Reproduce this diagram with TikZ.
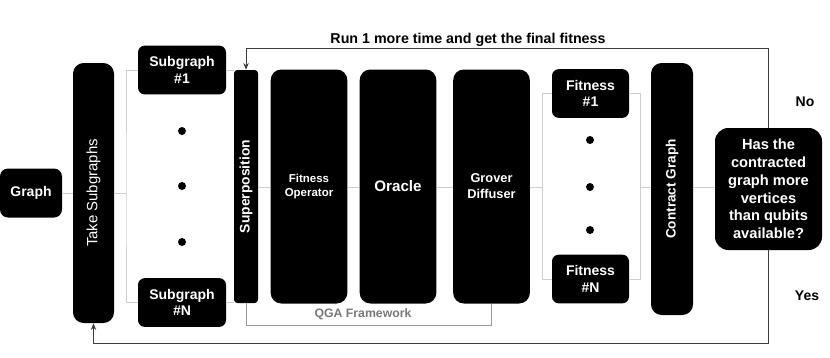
\documentclass[tikz,border=0pt]{standalone}
\usepackage{fontspec}
\setmainfont{Liberation Sans}
\usetikzlibrary{arrows.meta,positioning}
\definecolor{qlight}{RGB}{205,205,205}
\definecolor{qgray}{RGB}{150,150,150}
\definecolor{qtext}{RGB}{120,120,120}
\definecolor{qdark}{RGB}{60,60,60}

\begin{document}
\begin{tikzpicture}[x=0.75pt,y=-0.75pt,
  blk/.style={fill=black,text=white,rounded corners=8pt,inner sep=0pt,align=center,
    font=\fontsize{10.5}{12.5}\selectfont\bfseries},
  tag/.style={blk,rounded corners=5pt,minimum width=66pt,minimum height=36.5pt},
  stage/.style={blk,minimum width=57.5pt,minimum height=175.5pt},
  link/.style={draw=qlight,line width=0.6pt},
  back/.style={draw=qdark,line width=0.7pt,-{Stealth[length=5pt,width=4pt]}},
  lbl/.style={font=\fontsize{10.5}{12.5}\selectfont\bfseries}
]
  \useasboundingbox (0,0) rectangle (830,357);
  % Input and subgraphs
  \node[blk,rounded corners=6pt,minimum width=46.5pt,minimum height=36.75pt] (graph) at (31,193) {Graph};
  \node[blk,rotate=90,minimum width=195pt,minimum height=30.75pt,
    font=\fontsize{11.2}{12}\selectfont] (take) at (93.5,193) {Take Subgraphs};
  \node[tag] (sub1) at (182,70) {Subgraph\\\#1};
  \node[tag] (subN) at (182,302.5) {Subgraph\\\#N};
  \foreach \y in {131,186,242} \fill (182,\y) circle (3pt);
  % QGA framework
  \node[blk,rotate=90,rounded corners=2.5pt,minimum width=174.75pt,minimum height=18pt,
    font=\fontsize{10.4}{12}\selectfont\bfseries] (sup) at (246,186.5) {Superposition};
  \node[stage,font=\fontsize{8.6}{11}\selectfont\bfseries] (fop) at (309,186.5) {Fitness\\Operator};
  \node[stage,font=\fontsize{11.4}{13}\selectfont\bfseries] (oracle) at (398,186.5) {Oracle};
  \node[stage,font=\fontsize{9.6}{12}\selectfont\bfseries] (grover) at (491.5,186.5) {Grover\\Diffuser};
  % Fitness values
  \node[tag,minimum width=57.75pt] (fit1) at (590.5,93.5) {Fitness\\\#1};
  \node[tag,minimum width=57.75pt] (fitN) at (590.5,279) {Fitness\\\#N};
  \foreach \y in {140,187,230} \fill (590,\y) circle (3pt);
  \node[blk,rotate=90,minimum width=189pt,minimum height=31.5pt,
    font=\fontsize{10.2}{12}\selectfont\bfseries] (contract) at (672,189) {Contract Graph};
  % Decision
  \node[blk,rounded corners=10pt,minimum width=80.25pt,minimum height=91.5pt,
    font=\fontsize{11}{13.3}\selectfont\bfseries] (decide) at (768.5,189)
    {Has the\\contracted\\graph more\\vertices\\than qubits\\available?};
  % Gray connections
  \coordinate (sl) at (126,193);
  \coordinate (fl) at (542,187);
  \coordinate (fr) at (640,187);
  \draw[link] (graph.east) -- (take.north |- sl);
  \draw[link] (take.south |- sl) -- (sl);
  \draw[link] (sub1.west) -| (sl) |- (subN.west);
  \draw[link] (sub1.east) -- (sub1.east -| sup.north);
  \draw[link] (subN.east) -- (subN.east -| sup.north);
  \draw[link] (sup.south |- fl) -- (fop.west |- fl);
  \draw[link] (fop.east |- fl) -- (oracle.west |- fl);
  \draw[link] (oracle.east |- fl) -- (grover.west |- fl);
  \draw[link] (grover.east |- fl) -- (fl);
  \draw[link] (fit1.west) -| (fl) |- (fitN.west);
  \draw[link] (fit1.east) -| (fr) |- (fitN.east);
  \draw[link] (fr) -- (contract.north |- fr);
  \draw[link] (contract.south |- fr) -- (decide.west |- fr);
  % QGA bracket
  \coordinate (qga) at (246,325);
  \draw[draw=qgray,line width=0.7pt] (sup.west) -- (qga) -| (grover.south);
  \node[font=\fontsize{9.2}{11}\selectfont\bfseries,text=qtext] (qgalbl) at (363,314) {QGA Framework};
  % Feedback loops
  \coordinate (topL) at (246,48);
  \coordinate (botL) at (93.5,343);
  \draw[back] (decide.north) -- (decide.north |- topL) -- (topL) -- (sup.east);
  \draw[back] (decide.south) -- (decide.south |- botL) -- (botL) -- (take.west);
  \node[lbl,font=\fontsize{10.7}{12.5}\selectfont\bfseries] (title) at (468,40) {Run 1 more time and get the final fitness};
  \node[lbl] (no) at (805,102) {No};
  \node[lbl] (yes) at (807,296) {Yes};
\end{tikzpicture}
\end{document}
